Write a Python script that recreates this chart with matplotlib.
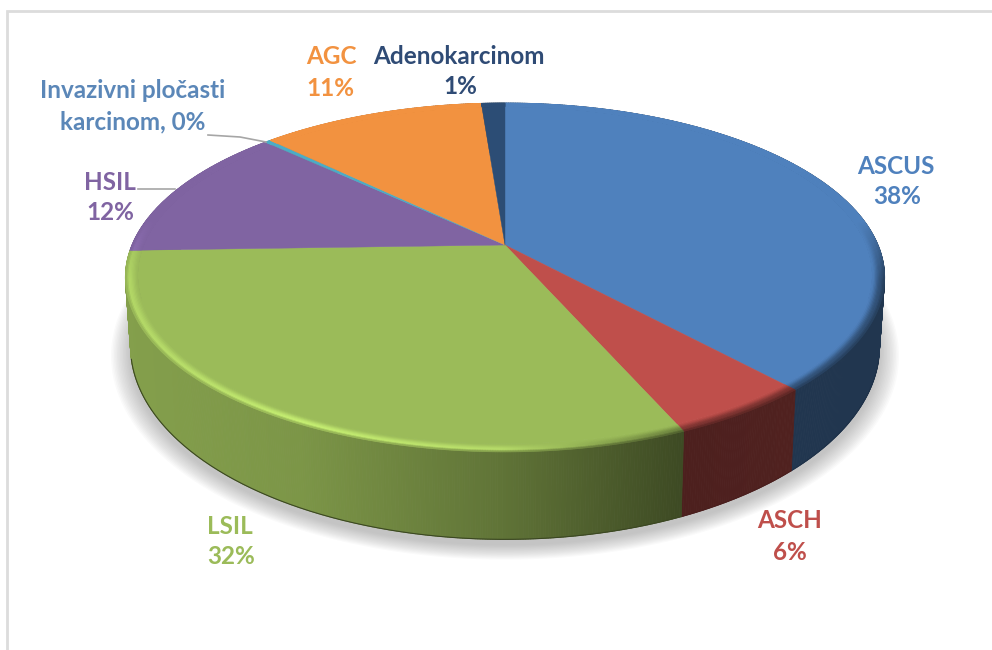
#!/usr/bin/env python
"""Perspective pie of cytology findings, drawn as a shaded 3D disc."""

import matplotlib

matplotlib.use("Agg")

import matplotlib.pyplot as plt
import numpy as np
from matplotlib.collections import PolyCollection
from matplotlib.colors import to_rgb

names = ["ASCUS", "ASCH", "LSIL", "HSIL", "Invazivni pločasti karcinom", "AGC", "Adenokarcinom"]
# slice sizes as measured on the disc, printed percentages are separate
values = [38.3, 5.2, 31.0, 12.6, 0.3, 11.4, 1.2]
percent_labels = ["38%", "6%", "32%", "12%", "0%", "11%", "1%"]
colors = ["#4f81bd", "#bf4f4b", "#9bbb59", "#8064a2", "#4bacc6", "#f29240", "#2c4d75"]

W, H = 992, 650
K = 0.186  # perspective strength


def project(u, v, bottom=False):
    """Disc coordinates (v towards the viewer) to pixel positions."""
    w = 1 - K * v
    if bottom:
        return 505 + 368 * u / w, 310 + 186.7 * v / w
    return 505 + 373 * u / w, 245 + 168.4 * v / w


def side_factor(x):
    return np.interp(x, [125, 300, 500, 680, 800, 890], [0.85, 0.8, 0.62, 0.4, 0.42, 0.42])


def rim_factor(x):
    return np.interp(x, [125, 300, 500, 620, 700, 890], [1.15, 1.28, 1.18, 0.85, 0.65, 0.62])


fig = plt.figure(figsize=(W / 100, H / 100), dpi=100)
ax = fig.add_axes([0, 0, 1, 1])
ax.set_xlim(0, W)
ax.set_ylim(H, 0)
ax.axis("off")

# screenshot frame
ax.plot([7, 7, W], [H, 11, 11], color="#dcdcdc", lw=2, solid_joinstyle="miter", zorder=1)

# soft shadow below the disc
full = np.linspace(0, 2 * np.pi, 361)
for grow in np.linspace(1.05, 1.0, 14):
    x, y = project(np.sin(full) * grow, -np.cos(full) * grow, bottom=True)
    ax.fill(x, y + 6, color="#808080", alpha=0.04, lw=0, zorder=2)

edges = np.cumsum([0] + values) / sum(values) * 2 * np.pi
side_polys, side_cols = [], []
top_polys, top_cols = [], []
rim_polys, rim_cols = [], []
rim_steps = np.linspace(0.968, 1.0, 11)

for start, stop, col in zip(edges[:-1], edges[1:], colors):
    base = np.array(to_rgb(col))
    angles = np.linspace(start, stop, max(3, int((stop - start) * 180)))
    u, v = np.sin(angles), -np.cos(angles)

    # outer wall
    tx, ty = project(u, v)
    bx, by = project(u, v, bottom=True)
    for i in range(len(angles) - 1):
        side_polys.append([(tx[i], ty[i]), (tx[i + 1], ty[i + 1]), (bx[i + 1], by[i + 1]), (bx[i], by[i])])
        side_cols.append(base * side_factor((tx[i] + tx[i + 1]) / 2))

    # thin darker line along the lower edge of the wall
    if v.max() > 0.25:
        ax.plot(bx[v > 0.25], by[v > 0.25], color=base * 0.38, lw=0.8, zorder=3.5)

    # flat top
    apex = project(0.0, 0.0)
    ex, ey = project(u * rim_steps[0], v * rim_steps[0])
    top_polys.append([apex] + list(zip(ex, ey)))
    top_cols.append(base)

    # rounded edge between top and wall
    for j in range(len(rim_steps) - 1):
        r0, r1 = rim_steps[j], rim_steps[j + 1]
        t = (j + 0.5) / (len(rim_steps) - 1)
        x0, y0 = project(u * r0, v * r0)
        x1, y1 = project(u * r1, v * r1)
        for i in range(len(angles) - 1):
            xm = (x1[i] + x1[i + 1]) / 2
            weight = np.clip((v[i] + 0.15) / 0.35, 0, 1)
            rim = base * rim_factor(xm)
            side = base * side_factor(xm)
            if t < 0.75:
                s = t / 0.75
                shade = base + (rim - base) * s * s * (3 - 2 * s)
            else:
                shade = rim + (side - rim) * (t - 0.75) / 0.25 * 0.7
            shade = base + (shade - base) * weight
            rim_polys.append([(x0[i], y0[i]), (x0[i + 1], y0[i + 1]), (x1[i + 1], y1[i + 1]), (x1[i], y1[i])])
            rim_cols.append(np.clip(shade, 0, 1))

ax.add_collection(PolyCollection(side_polys, facecolors=side_cols, edgecolors=side_cols, linewidths=0.6, zorder=3))
ax.add_collection(PolyCollection(top_polys, facecolors=top_cols, edgecolors=top_cols, linewidths=0.3, zorder=4))
ax.add_collection(PolyCollection(rim_polys, facecolors=rim_cols, edgecolors=rim_cols, linewidths=0.5, zorder=5))

# labels, first and second line placed on their own
label_font = dict(family="Lato", fontweight="bold", fontsize=17.5, ha="center", va="center", zorder=7)
label_colors = ["#4f81bd", "#bf4f4b", "#9bbb59", "#8064a2", "#5b87b8", "#f29240", "#2f4b75"]
first_lines = ["ASCUS", "ASCH", "LSIL", "HSIL", "Invazivni pločasti", "AGC", "Adenokarcinom"]
second_lines = list(percent_labels)
second_lines[4] = "karcinom, " + percent_labels[4]
first_xy = [(896, 166), (790, 521), (230, 526), (110, 182), (133, 91), (331, 57), (459, 56)]
second_xy = [(897, 197), (790, 553), (231, 557), (110, 213), (133, 122), (330, 88), (460, 87)]
for i in range(len(names)):
    ax.text(*first_xy[i], first_lines[i], color=label_colors[i], **label_font)
    ax.text(*second_xy[i], second_lines[i], color=label_colors[i], **label_font)

# leader lines
ax.plot([208, 240, 266], [135, 137, 142], color="#a6a6a6", lw=1.2, zorder=6)
ax.plot([138, 175], [189, 189], color="#a6a6a6", lw=1.2, zorder=6)

fig.savefig("out.png", dpi=100)
plt.close(fig)
